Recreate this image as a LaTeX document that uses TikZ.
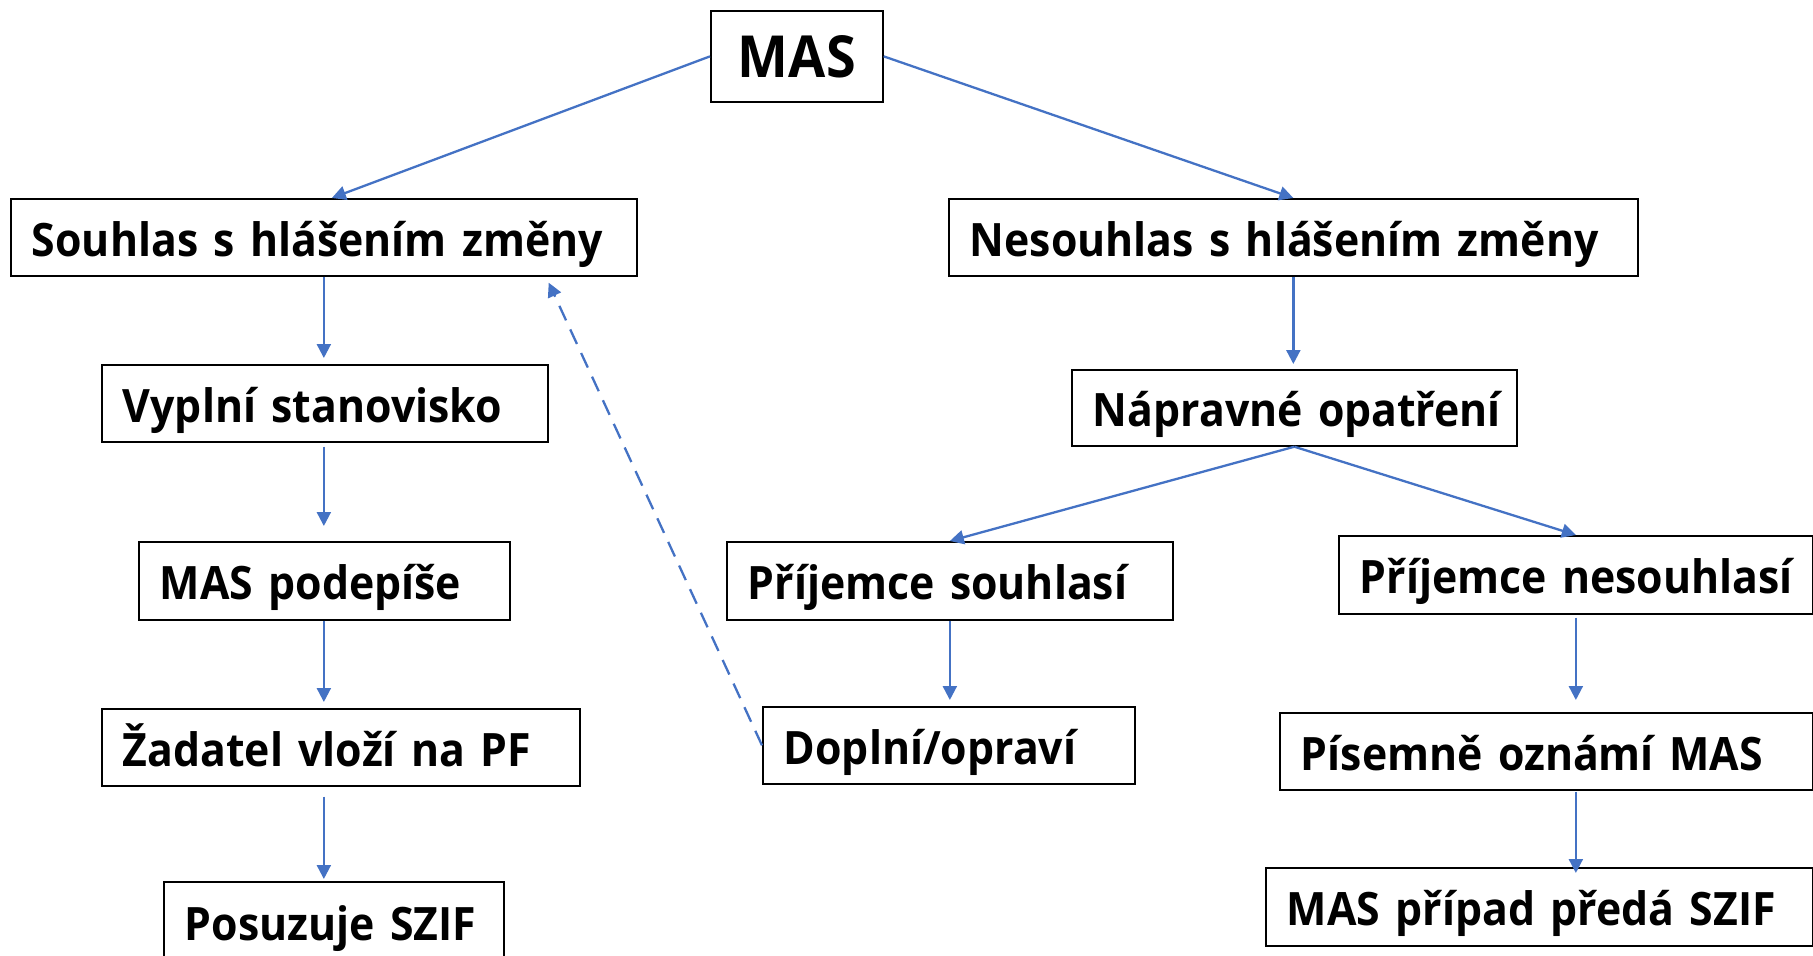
\documentclass[tikz,border=0pt]{standalone}
\usepackage{fontspec}
\setmainfont{Open Sans}[BoldFeatures={FakeStretch=0.93}]
\usetikzlibrary{arrows.meta,positioning}
\definecolor{arrblue}{HTML}{4472C4}
\newcommand\nb[1]{\mbox{#1}}
\tikzset{
  box/.style={draw=black, line width=1.7pt, anchor=north west, align=left,
    inner xsep=21pt, inner ysep=0pt, text height=38pt, text depth=0pt,
    font=\fontsize{46}{55}\selectfont\bfseries},
  arr/.style={draw=arrblue, line width=2.3pt, -{Triangle[width=14pt,length=14pt]}},
}
\begin{document}
\begin{tikzpicture}[x=1pt,y=1pt]
\useasboundingbox (0,0) rectangle (1813,-956);
\clip (0,0) rectangle (1813,-956);
\node[box, align=center, inner xsep=0pt, text height=42pt, minimum width=172pt, minimum height=91pt, font=\fontsize{58}{66}\selectfont\bfseries] (mas) at (710,-10) {MAS};
\node[box, text width=584pt, minimum height=77pt] (souhlas) at (10,-198) {\nb{Souhlas s hlášením změny}};
\node[box, text width=647pt, minimum height=77pt] (nesouhlas) at (948,-198) {\nb{Nesouhlas s hlášením změny}};
\node[box, text width=404pt, minimum height=77pt] (vyplni) at (101,-364) {\nb{Vyplní stanovisko}};
\node[box, text width=403pt, minimum height=76pt] (naprav) at (1071,-369) {\nb{Nápravné opatření}};
\node[box, text width=329pt, minimum height=78pt] (podepise) at (138,-541) {\nb{MAS podepíše}};
\node[box, text width=404pt, minimum height=78pt] (psouhlasi) at (726,-541) {\nb{Příjemce souhlasí}};
\node[box, text width=432pt, minimum height=78pt] (pnesouhlasi) at (1338,-535) {\nb{Příjemce nesouhlasí}};
\node[box, text width=436pt, minimum height=77pt] (zadatel) at (101,-708) {\nb{Žadatel vloží na PF}};
\node[box, text width=330pt, minimum height=77pt] (doplni) at (762,-706) {\nb{Doplní/opraví}};
\node[box, text width=491pt, minimum height=77pt] (pisemne) at (1279,-712) {\nb{Písemně oznámí MAS}};
\node[box, text width=298pt, minimum height=80pt] (posuzuje) at (163,-881) {\nb{Posuzuje SZIF}};
\node[box, text width=505pt, minimum height=78pt] (mascase) at (1265,-867) {\nb{MAS případ předá SZIF}};
\coordinate (back) at ([xshift=-89pt,yshift=-6pt]souhlas.south east);
% arrows
\draw[arr] (mas.west) -- ([xshift=8pt]souhlas.north);
\draw[arr] (mas.east) -- (nesouhlas.north);
\draw[arr] (souhlas.south) -- ([yshift=6pt]vyplni.north -| souhlas.south);
\draw[arr] ([yshift=-4pt]vyplni.south -| souhlas.south) -- ([yshift=15pt]podepise.north -| souhlas.south);
\draw[arr] (podepise.south -| souhlas.south) -- ([yshift=6pt]zadatel.north -| souhlas.south);
\draw[arr] ([yshift=-10pt]zadatel.south -| souhlas.south) -- ([yshift=2pt]posuzuje.north -| souhlas.south);
\draw[arr] (nesouhlas.south) -- ([yshift=5pt]naprav.north -| nesouhlas.south);
\draw[arr] (naprav.south) -- (psouhlasi.north);
\draw[arr] (naprav.south) -- (pnesouhlasi.north);
\draw[arr] (psouhlasi.south) -- ([yshift=6pt]doplni.north -| psouhlasi.south);
\draw[arr] ([yshift=-3pt]pnesouhlasi.south) -- ([yshift=12pt]pisemne.north -| pnesouhlasi.south);
\draw[arr] ([yshift=-1pt]pisemne.south -| pnesouhlasi.south) -- ([yshift=-6pt]mascase.north -| pnesouhlasi.south);
\draw[arr, dash pattern=on 16pt off 10pt] (doplni.west) -- (back);
\end{tikzpicture}
\end{document}
